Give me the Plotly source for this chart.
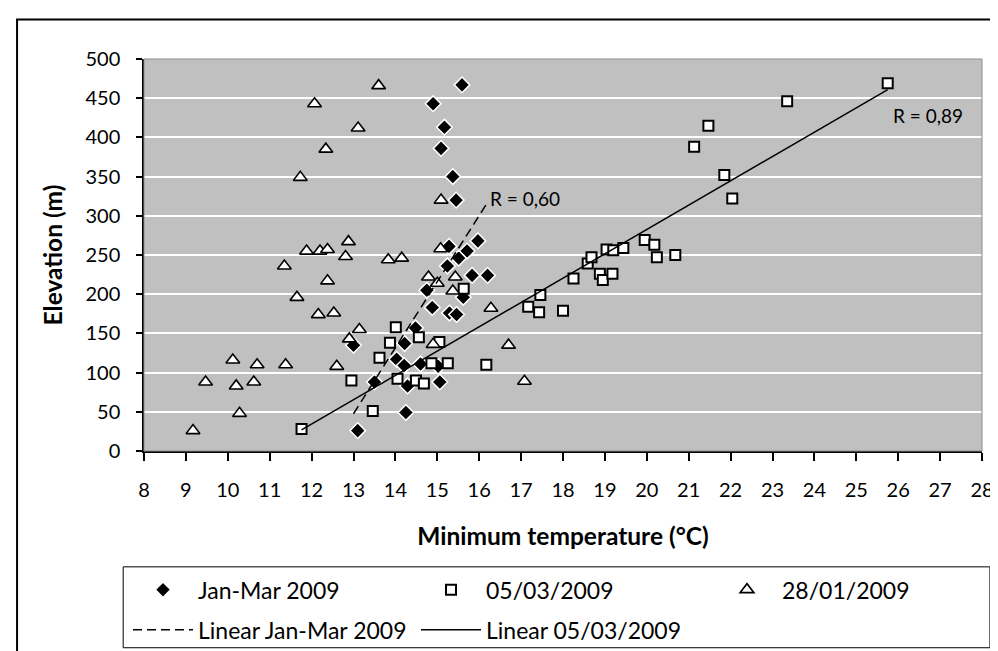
import numpy as np
import plotly.graph_objects as go

# ---------------- data ----------------
jan_mar_x = [15.59, 14.90, 15.17, 15.09, 15.37, 15.45, 15.97, 15.28, 15.71, 15.51,
             15.24, 15.83, 16.20, 14.75, 15.62, 14.88, 15.29, 15.46, 14.48, 14.22,
             13.00, 14.03, 14.21, 14.60, 15.02, 13.50, 14.29, 15.06, 14.25, 13.10]
jan_mar_y = [467, 443, 413, 386, 350, 320, 268, 261, 255, 246,
             236, 224, 224, 205, 196, 183, 176, 174, 157, 137,
             135, 117, 109, 111, 108, 88, 83, 88, 49, 26]

mar05_x = [11.76, 12.95, 13.46, 13.62, 14.01, 13.87, 14.56, 15.05, 14.86, 15.25,
           16.17, 14.05, 14.49, 14.68, 15.63, 17.17, 17.46, 17.43, 18.00, 18.25,
           18.59, 18.68, 18.88, 18.95, 19.18, 19.04, 19.20, 19.44, 19.95, 20.18,
           20.24, 20.68, 25.75, 23.35, 21.47, 21.13, 21.85, 22.04]
mar05_y = [28, 90, 51, 119, 158, 138, 145, 139, 112, 112,
           110, 92, 90, 86, 207, 184, 199, 177, 179, 220,
           239, 247, 226, 218, 226, 257, 256, 259, 269, 263,
           247, 250, 469, 446, 415, 388, 352, 322]

jan28_x = [12.07, 13.60, 13.11, 12.34, 11.73, 15.09, 11.88, 12.20, 12.38, 12.88,
           12.81, 13.83, 14.15, 11.35, 12.38, 11.65, 12.16, 12.53, 13.14, 12.90,
           12.60, 11.38, 10.70, 10.12, 9.47, 10.20, 10.62, 10.28, 9.17, 15.08,
           14.79, 15.43, 15.00, 15.37, 16.28, 14.90, 16.70, 17.08]
jan28_y = [443, 466, 412, 385, 349, 320, 255, 255, 257, 267,
           248, 244, 246, 236, 217, 196, 174, 176, 155, 143,
           108, 110, 110, 116, 88, 83, 88, 48, 26, 258,
           222, 222, 214, 204, 182, 136, 135, 89]

x_ticks = list(range(8, 29))
y_ticks = list(range(0, 501, 50))
r_labels = ["R = 0,60", "R = 0,89"]


def linear_fit(xs, ys):
    a, b = np.polyfit(xs, ys, 1)
    x0, x1 = min(xs), max(xs)
    return [x0, x1], [a * x0 + b, a * x1 + b]


fit1_x, fit1_y = linear_fit(jan_mar_x, jan_mar_y)
fit2_x, fit2_y = linear_fit(mar05_x, mar05_y)

FONT = "Lato"

fig = go.Figure()

fig.add_trace(go.Scatter(
    x=jan_mar_x, y=jan_mar_y, mode="markers", name="Jan-Mar 2009",
    marker=dict(symbol="diamond", size=12, color="black",
                line=dict(color="white", width=1.5)),
    legend="legend"))
fig.add_trace(go.Scatter(
    x=mar05_x, y=mar05_y, mode="markers", name="05/03/2009",
    marker=dict(symbol="square", size=10, color="white",
                line=dict(color="black", width=2)),
    legend="legend"))
fig.add_trace(go.Scatter(
    x=jan28_x, y=jan28_y, mode="markers", name="28/01/2009",
    marker=dict(symbol="triangle-up", size=12, color="white",
                line=dict(color="black", width=1.6)),
    legend="legend3"))
fig.add_trace(go.Scatter(
    x=fit1_x, y=fit1_y, mode="lines", name="Linear Jan-Mar 2009",
    line=dict(color="black", width=1.5, dash="9px,5px"),
    legend="legend2"))
fig.add_trace(go.Scatter(
    x=fit2_x, y=fit2_y, mode="lines", name="Linear 05/03/2009",
    line=dict(color="black", width=1.5),
    legend="legend2"))

# plot-area pixel geometry
L, R, T, B = 136, 981, 50.5, 443
W, H = 998, 651
pw, ph = R - L, B - T


def px(xp):
    return (xp - L) / pw


def py(yp):
    return (B - yp) / ph


shapes = [
    # outer chart border
    dict(type="rect", xref="paper", yref="paper", x0=px(8), x1=px(1005),
         y0=py(660), y1=py(11), line=dict(color="black", width=2),
         fillcolor="rgba(0,0,0,0)", layer="below"),
    # plot area gray frame (top/right)
    dict(type="rect", xref="paper", yref="paper", x0=0, x1=1, y0=0, y1=1,
         line=dict(color="#8c8c8c", width=1), layer="above"),
    # legend box
    dict(type="rect", xref="paper", yref="paper", x0=px(115), x1=px(989),
         y0=py(640), y1=py(559), line=dict(color="black", width=1),
         fillcolor="white", layer="below"),
]

annotations = [
    dict(x=16.2, y=322, text=r_labels[0], showarrow=False,
         xanchor="left", yanchor="middle", font=dict(family=FONT, size=19, color="black")),
    dict(x=25.82, y=428, text=r_labels[1], showarrow=False,
         xanchor="left", yanchor="middle", font=dict(family=FONT, size=19, color="black")),
]

legend_common = dict(orientation="h", xref="container", yref="container",
                     xanchor="left", yanchor="middle",
                     entrywidth=213, entrywidthmode="pixels", itemwidth=60,
                     bgcolor="rgba(0,0,0,0)", borderwidth=0,
                     font=dict(family=FONT, size=23, color="black"))

fig.update_layout(
    width=W, height=H,
    margin=dict(l=L, r=W - R, t=T, b=H - B, pad=0),
    paper_bgcolor="white", plot_bgcolor="#c0c0c0",
    font=dict(family=FONT, size=20, color="black"),
    shapes=shapes, annotations=annotations,
    showlegend=True,
    legend=dict(x=120 / W, y=1 - 581.7 / H, **legend_common),
    legend3=dict(x=704 / W, y=1 - 581.7 / H, **legend_common),
    legend2=dict(x=120 / W, y=1 - 621.7 / H, **legend_common),
)

fig.update_xaxes(
    range=[8, 28], tickmode="array", tickvals=x_ticks,
    ticktext=[str(v) for v in x_ticks],
    showgrid=False, zeroline=False,
    showline=True, linecolor="black", linewidth=1.5,
    ticks="outside", ticklen=8, tickwidth=1.5, tickcolor="black",
    ticklabelstandoff=12,
    tickfont=dict(family=FONT, size=20),
    title=dict(text="Minimum temperature (°C)", standoff=28,
               font=dict(family=FONT, size=24.5, weight="bold")),
)
fig.update_yaxes(
    range=[0, 500], tickmode="array", tickvals=y_ticks,
    ticktext=[str(v) for v in y_ticks],
    showgrid=True, gridcolor="white", gridwidth=1.5, zeroline=False,
    showline=True, linecolor="black", linewidth=1.5,
    ticks="outside", ticklen=6, tickwidth=1.5, tickcolor="black",
    ticklabelstandoff=12,
    tickfont=dict(family=FONT, size=20),
    title=dict(text="Elevation (m)", standoff=16,
               font=dict(family=FONT, size=24.5, weight="bold")),
)

fig.write_html("out.html")
